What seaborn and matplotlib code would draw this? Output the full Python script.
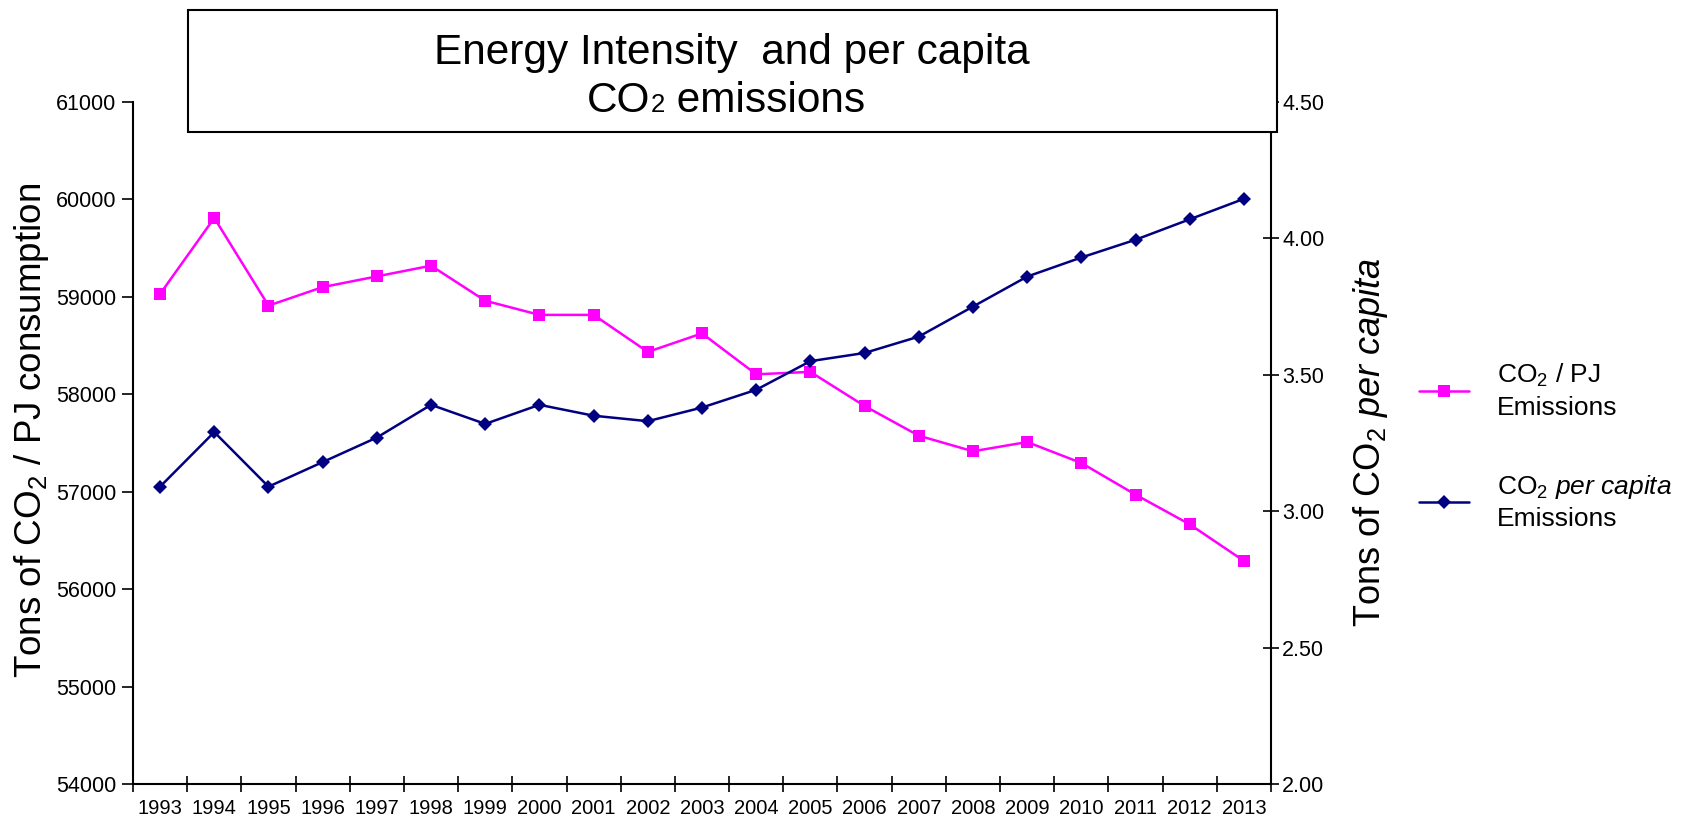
import numpy as np
import pandas as pd
import matplotlib
matplotlib.use("Agg")
import matplotlib.pyplot as plt
import seaborn as sns
from matplotlib.offsetbox import TextArea, HPacker, VPacker, AnnotationBbox
from matplotlib.patches import Rectangle
from matplotlib.lines import Line2D

# Data series
years = list(range(1993, 2014))
co2_per_pj = [59030, 59810, 58910, 59100, 59210, 59320, 58960, 58815, 58815,
              58435, 58625, 58205, 58230, 57880, 57575, 57415, 57510, 57295,
              56970, 56665, 56290]
co2_per_capita = [3.09, 3.29, 3.09, 3.18, 3.27, 3.39, 3.32, 3.39, 3.35,
                  3.33, 3.38, 3.445, 3.55, 3.58, 3.64, 3.75, 3.86, 3.93,
                  3.995, 4.07, 4.145]
left_ticks = [54000, 55000, 56000, 57000, 58000, 59000, 60000, 61000]
right_ticks = [2.00, 2.50, 3.00, 3.50, 4.00, 4.50]

PINK = "#FF00FF"
NAVY = "#000080"

sns.set_theme(style="white")
plt.rcParams["font.family"] = ["Liberation Sans", "DejaVu Sans"]
plt.rcParams["mathtext.fontset"] = "custom"
plt.rcParams["mathtext.rm"] = "Liberation Sans"
plt.rcParams["mathtext.it"] = "Liberation Sans:italic"
plt.rcParams["mathtext.bf"] = "Liberation Sans:bold"

W, H = 1683, 823
fig = plt.figure(figsize=(W / 100, H / 100), dpi=100)
fig.patch.set_facecolor("white")

x0, x1, y_top, y_bot = 133, 1271, 102, 784
ax = fig.add_axes([x0 / W, 1 - y_bot / H, (x1 - x0) / W, (y_bot - y_top) / H])
ax2 = ax.twinx()

SQ_MS, DI_MS, LW = 8, 7, 1.8

df = pd.DataFrame({"year": years, "pj": co2_per_pj, "cap": co2_per_capita})
sns.lineplot(data=df, x="year", y="pj", ax=ax, color=PINK, marker="s",
             markersize=SQ_MS, markeredgewidth=0, linewidth=LW, legend=False)
sns.lineplot(data=df, x="year", y="cap", ax=ax2, color=NAVY, marker="D",
             markersize=DI_MS, markeredgewidth=0, linewidth=LW, legend=False)

ax.set_xlim(years[0] - 0.5, years[-1] + 0.5)
ax.set_ylim(left_ticks[0], left_ticks[-1])
ax2.set_ylim(right_ticks[0], right_ticks[-1])

# x axis: labels at category centres, tick marks between categories
ax.set_xticks(years)
ax.set_xticklabels([str(y) for y in years])
ax.set_xticks(np.arange(years[0] - 0.5, years[-1] + 1.0, 1.0), minor=True)
ax.tick_params(axis="x", which="major", length=0, pad=11, labelsize=14.5,
               labelcolor="black")
ax.tick_params(axis="x", which="minor", direction="inout", length=12,
               width=1.2, color="black", bottom=True)

ax.set_yticks(left_ticks)
ax.set_yticklabels([str(v) for v in left_ticks])
ax.tick_params(axis="y", direction="out", length=8, width=1.2, color="black",
               labelsize=15.5, pad=4, left=True, labelcolor="black")

ax2.set_yticks(right_ticks)
ax2.set_yticklabels([f"{v:.2f}" for v in right_ticks])
ax2.tick_params(axis="y", direction="inout", length=12, width=1.2,
                color="black", labelsize=15.5, pad=2, right=True,
                labelcolor="black")

for a in (ax, ax2):
    for s in a.spines.values():
        s.set_color("black")
        s.set_linewidth(1.5)
    a.spines["top"].set_visible(False)
    a.set_xlabel("")
ax.spines["right"].set_visible(False)
ax2.spines["left"].set_visible(False)
ax2.spines["bottom"].set_visible(False)
ax.grid(False)
ax2.grid(False)

ax.set_ylabel(r"Tons of CO$_2$ / PJ consumption", fontsize=26.5, va="center",
              ha="center", color="black")
ax.yaxis.set_label_coords((32 - x0) / (x1 - x0), (y_bot - 430) / (y_bot - y_top))
ax2.set_ylabel(r"Tons of CO$_2$ $\mathit{per\ capita}$", fontsize=26,
               va="center", ha="center", color="black", rotation=90)
ax2.yaxis.set_label_coords((1370 - x0) / (x1 - x0), (y_bot - 442) / (y_bot - y_top))

# Title box
fig.add_artist(Rectangle((188 / W, 1 - 132 / H), (1277 - 188) / W, (132 - 10) / H,
                         transform=fig.transFigure, facecolor="white",
                         edgecolor="black", linewidth=1.5, zorder=10))
tp = dict(fontsize=30.5, color="black", family="Liberation Sans")
line1 = TextArea("Energy Intensity  and per capita", textprops=tp)
line2 = HPacker(children=[TextArea("CO", textprops=tp),
                          TextArea("2", textprops=dict(tp, fontsize=18.5)),
                          TextArea(" emissions ", textprops=tp)],
                align="baseline", pad=0, sep=0)
title = VPacker(children=[line1, line2], align="center", pad=0, sep=6)
fig.add_artist(AnnotationBbox(title, (732 / W, 1 - 77 / H),
                              xycoords="figure fraction", frameon=False,
                              box_alignment=(0.5, 0.5), zorder=11))

# Legend
handles = [Line2D([], [], color=PINK, marker="s", markersize=SQ_MS,
                  markeredgewidth=0, linewidth=LW),
           Line2D([], [], color=NAVY, marker="D", markersize=DI_MS,
                  markeredgewidth=0, linewidth=LW)]
labels = ["CO$_2$ / PJ\nEmissions",
          "CO$_2$ $\\mathit{per\\ capita}$\nEmissions"]
leg = fig.legend(handles, labels, loc="upper left",
                 bbox_to_anchor=(1419 / W, 1 - 362 / H), frameon=False,
                 fontsize=19, handlelength=1.9, handletextpad=1.05,
                 labelspacing=2.0, borderpad=0, borderaxespad=0)
for t in leg.get_texts():
    t.set_linespacing(1.35)
    t.set_color("black")

fig.savefig("out.png", dpi=100, facecolor="white")
